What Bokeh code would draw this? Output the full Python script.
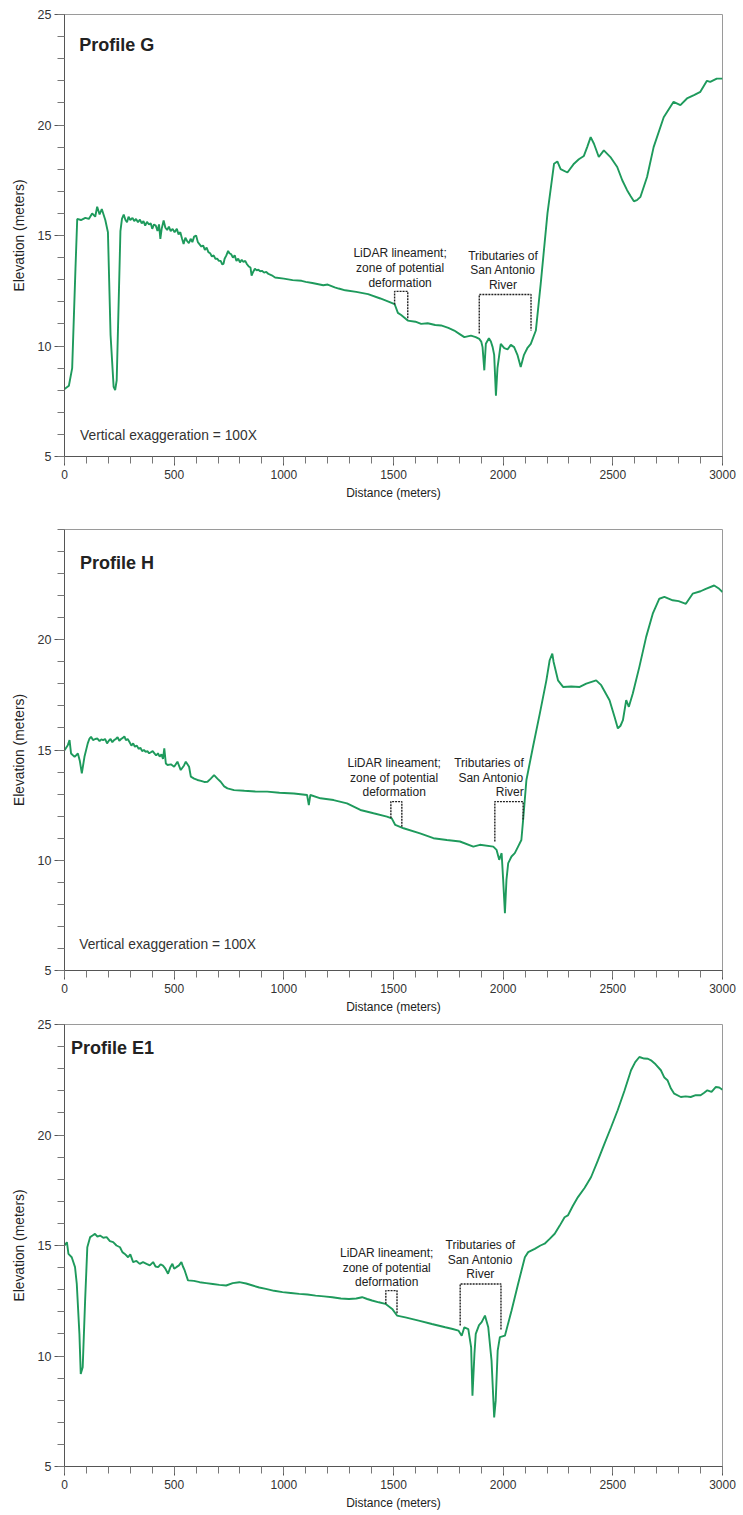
from bokeh.plotting import figure
from bokeh.layouts import column
from bokeh.models import Range1d, FixedTicker, ColumnDataSource
from bokeh.core.properties import value
from bokeh.embed import file_html
from bokeh.resources import INLINE

FONT = "Liberation Sans"
LINE_COLOR = "#1e9a5c"

# ---------------- data ----------------
x_major = [0, 500, 1000, 1500, 2000, 2500, 3000]
x_minor = list(range(0, 3001, 100))
y_major_full = [5, 10, 15, 20, 25]
y_major_h = [5, 10, 15, 20]
y_minor = list(range(5, 26))

g_dist = [0, 20, 35, 50, 58, 75, 95, 111, 126, 140, 149, 160, 170, 186, 198, 202, 210, 224, 231, 238, 247,
          255, 262, 270, 278, 285, 292, 300, 310, 318, 326, 335, 344, 352, 360, 368, 376, 385, 393, 400,
          408, 416, 424, 431, 437, 443, 452, 460, 468, 476, 484, 493, 502, 512, 520, 528, 536, 543, 551,
          559, 567, 575, 583, 591, 600, 608, 616, 624, 632, 640, 648, 656, 664, 672, 680, 688, 696, 704,
          712, 719, 725, 730, 738, 746, 752, 760, 768, 776, 784, 792, 800, 808, 816, 824, 832, 840, 848,
          853, 860, 868, 876, 884, 892, 900, 910, 920, 930, 945, 960,
          1000, 1040, 1081, 1100, 1130, 1180, 1200, 1232, 1250, 1280, 1330, 1384, 1440, 1480, 1505, 1520,
          1535, 1565, 1600, 1626, 1656, 1690, 1717, 1750, 1777, 1800, 1823, 1853, 1875, 1891, 1900, 1906,
          1914, 1921, 1935, 1944, 1952, 1959, 1967, 1974, 1989, 2005, 2020, 2035, 2050, 2065, 2080, 2095,
          2110, 2126, 2149, 2171, 2202, 2232, 2247, 2262, 2293, 2323, 2345, 2368, 2383, 2399, 2414, 2436,
          2459, 2489, 2520, 2543, 2565, 2580, 2596, 2610, 2626, 2656, 2686, 2732, 2777, 2808, 2838, 2870,
          2899, 2929, 2944, 2974, 3000]
g_elev = [8.05, 8.2, 9.0, 13.5, 15.75, 15.7, 15.8, 15.75, 16.0, 15.85, 16.3, 15.95, 16.2, 15.7, 15.15,
          13.6, 10.5, 8.15, 8.0, 8.45, 12.0,
          15.2, 15.75, 15.95, 15.7, 15.6, 15.85, 15.7, 15.8, 15.65, 15.75, 15.6, 15.72, 15.55, 15.65, 15.45,
          15.62, 15.5, 15.55, 15.3, 15.5, 15.45, 15.2, 15.5, 14.85, 15.3, 15.68, 15.35, 15.25, 15.4, 15.2,
          15.3, 15.15, 15.3, 15.05, 15.15, 14.85, 14.62, 14.9, 14.75, 14.65, 14.85, 14.7, 14.95, 15.0,
          14.7, 14.6, 14.5, 14.55, 14.35, 14.45, 14.25, 14.2, 14.05, 14.1, 13.95, 13.95, 13.85, 13.85,
          13.7, 13.72, 13.95, 14.1, 14.3, 14.2, 14.15, 14.0, 14.1, 13.85, 13.95, 13.78, 13.9, 13.8, 13.85,
          13.7, 13.6, 13.55, 13.19, 13.35, 13.5, 13.42, 13.45, 13.38, 13.4, 13.32, 13.35, 13.26, 13.2,
          13.1,
          13.05, 12.98, 12.95, 12.9, 12.85, 12.75, 12.78, 12.65, 12.6, 12.52, 12.45, 12.35, 12.15, 12.0,
          11.9, 11.5, 11.4, 11.15, 11.1, 11.0, 11.03, 10.95, 10.93, 10.82, 10.7, 10.55, 10.4, 10.47, 10.4,
          10.32, 10.2, 9.95, 8.9, 10.1, 10.35, 10.2, 9.95, 9.6, 7.75, 9.0, 10.1, 9.9, 9.85, 10.05, 9.95,
          9.6, 9.05, 9.6, 9.9, 10.1, 10.7, 12.8, 16.0, 18.25, 18.35, 18.0, 17.85, 18.25, 18.45, 18.6,
          19.0, 19.45, 19.15, 18.55, 18.85, 18.55, 18.1, 17.5, 17.05, 16.8, 16.55, 16.6, 16.75, 17.65,
          19.0, 20.35, 21.05, 20.9, 21.2, 21.35, 21.5, 22.0, 21.95, 22.1, 22.1]

h_dist = [0, 15, 23, 30, 46, 61, 70, 79, 91,
          106, 114, 121, 130, 140, 150, 160, 168, 176, 185, 194, 202, 210, 218, 226, 234, 242, 250, 258,
          266, 273, 280, 288, 297, 305, 313, 321, 330, 338, 346, 354, 362, 370, 378, 386, 394, 402, 410,
          418, 426, 434, 442, 449, 455, 462,
          470, 485, 500, 515, 530, 545, 553, 568, 576, 591, 606, 622, 637, 652, 667, 682, 697, 712, 728,
          743, 773, 820, 870, 924, 980, 1046, 1106, 1114, 1121, 1167, 1227, 1288, 1349, 1409, 1470, 1492,
          1508, 1546, 1621, 1682, 1743, 1803, 1864, 1894, 1955, 1970, 1982, 1993, 2000, 2008, 2015, 2023,
          2038, 2053, 2068, 2083, 2091, 2106, 2136, 2167, 2197, 2212, 2224, 2230, 2250, 2273, 2310, 2349,
          2379, 2424, 2447, 2485, 2508, 2523, 2535, 2546, 2561, 2573, 2591, 2621, 2652, 2682, 2712, 2735,
          2773, 2800, 2833, 2864, 2900, 2924, 2962, 2985, 3000]
h_elev = [14.99, 15.22, 15.45, 14.84, 14.69, 14.84, 14.5, 13.94, 14.69,
          15.3, 15.52, 15.6, 15.45, 15.5, 15.52, 15.4, 15.48, 15.45, 15.5, 15.3, 15.42, 15.5, 15.35, 15.45,
          15.5, 15.58, 15.42, 15.5, 15.55, 15.62, 15.45, 15.5, 15.35, 15.2, 15.3, 15.15, 15.2, 15.05, 15.1,
          14.95, 15.0, 14.92, 14.95, 14.85, 14.9, 14.95, 14.85, 14.75, 14.85, 14.7, 14.8, 14.6, 15.07,
          14.39,
          14.32, 14.35, 14.24, 14.47, 14.09, 14.3, 14.47, 14.24, 13.79, 13.7, 13.64, 13.6, 13.55, 13.56,
          13.7, 13.86, 13.7, 13.56, 13.35, 13.26, 13.18, 13.15, 13.12, 13.11, 13.06, 13.03, 12.96, 12.5,
          12.96, 12.81, 12.73, 12.58, 12.28, 12.13, 11.98, 11.9, 11.6, 11.45, 11.22, 11.0, 10.92, 10.85,
          10.62, 10.7, 10.62, 10.47, 10.02, 10.32, 9.11, 7.6, 9.11, 9.87, 10.17, 10.32, 10.62, 10.92,
          11.83, 13.64, 15.15, 16.65, 18.16, 19.07, 19.37, 18.99, 18.16, 17.86, 17.88, 17.86, 18.01, 18.16,
          17.94, 17.26, 16.5, 15.98, 16.1, 16.35, 17.26, 16.96, 17.56, 18.77, 20.13, 21.18, 21.86, 21.94,
          21.79, 21.75, 21.63, 22.09, 22.2, 22.31, 22.46, 22.31, 22.16]

e1_dist = [0, 11, 18, 33, 48, 56, 68, 74, 83, 94, 104, 117, 128, 139, 150, 162, 177, 192, 207, 222, 237,
           253, 264, 275, 290, 300, 313, 328, 343, 358, 374, 389, 404, 415, 427, 438, 449, 460, 472, 482,
           492, 500, 510, 522, 533, 540, 548, 563, 590, 616, 646, 676, 706, 737, 767, 797, 828, 858, 888,
           918, 956, 994, 1032, 1070, 1108, 1145, 1183, 1221, 1260, 1297, 1330, 1357, 1380, 1402, 1433,
           1463, 1494, 1516, 1554, 1615, 1675, 1736, 1770, 1796, 1811, 1823, 1841, 1854, 1860, 1869, 1875,
           1890, 1902, 1917, 1932, 1947, 1959, 1966, 1975, 1985, 2008, 2038, 2068, 2099, 2114, 2144, 2170,
           2189, 2212, 2235, 2258, 2280, 2295, 2318, 2341, 2371, 2401, 2432, 2462, 2492, 2522, 2553, 2583,
           2602, 2621, 2643, 2660, 2674, 2695, 2719, 2735, 2749, 2765, 2780, 2810, 2832, 2855, 2878, 2900,
           2915, 2931, 2950, 2969, 2985, 3000]
e1_elev = [15.0, 15.15, 14.62, 14.47, 14.02, 13.26, 11.0, 9.19, 9.49, 12.51, 14.92, 15.38, 15.45, 15.53,
           15.4, 15.45, 15.35, 15.38, 15.2, 15.15, 15.0, 14.92, 14.7, 14.62, 14.47, 14.6, 14.25, 14.3,
           14.17, 14.25, 14.17, 14.1, 14.25, 14.05, 14.02, 14.15, 14.09, 13.95, 13.72, 14.0, 14.17, 13.95,
           14.02, 14.1, 14.25, 14.05, 13.87, 13.42, 13.4, 13.34, 13.3, 13.26, 13.22, 13.19, 13.3, 13.34,
           13.28, 13.19, 13.1, 13.04, 12.95, 12.89, 12.85, 12.81, 12.78, 12.73, 12.7, 12.66, 12.6, 12.58,
           12.6, 12.66, 12.58, 12.51, 12.43, 12.36, 12.13, 11.83, 11.75, 11.6, 11.45, 11.3, 11.22, 11.15,
           10.92, 11.3, 11.22, 10.39, 8.2, 10.09, 11.0, 11.4, 11.53, 11.83, 11.3, 9.79, 7.22, 7.98, 10.24,
           10.85, 10.92, 12.05, 13.26, 14.47, 14.7, 14.85, 15.0, 15.08, 15.3, 15.53, 15.9, 16.28, 16.36,
           16.8, 17.19, 17.6, 18.1, 18.85, 19.61, 20.35, 21.12, 22.0, 22.93, 23.3, 23.53, 23.46, 23.45,
           23.38, 23.2, 22.93, 22.6, 22.48, 22.1, 21.87, 21.72, 21.75, 21.72, 21.8, 21.8, 21.9, 22.02,
           21.95, 22.17, 22.15, 22.05]

assert len(g_dist) == len(g_elev), (len(g_dist), len(g_elev))
assert len(h_dist) == len(h_elev), (len(h_dist), len(h_elev))
assert len(e1_dist) == len(e1_elev), (len(e1_dist), len(e1_elev))

# bracket annotations: [x_left, x_right, y_top, y_left_bottom, y_right_bottom]
g_lidar_box = [1505, 1565, 12.47, 11.88, 11.2]
g_trib_box = [1891, 2127, 12.33, 10.57, 10.70]
h_lidar_box = [1488, 1538, 12.66, 11.9, 11.5]
h_trib_box = [1962, 2091, 12.66, 10.85, 11.83]
e1_lidar_box = [1465, 1516, 12.96, 12.36, 11.9]
e1_trib_box = [1804, 1990, 13.26, 11.38, 11.15]

lidar_lines = ["LiDAR lineament;", "zone of potential", "deformation"]
trib_lines = ["Tributaries of", "San Antonio", "River"]

# text anchors: (x, [y of each line])
g_lidar_txt = (1530, [14.23, 13.55, 12.87])
g_trib_txt = (1999, [14.09, 13.42, 12.74])
h_lidar_txt = (1503, [14.41, 13.73, 13.09])
h_trib_txt = (2094, [14.41, 13.73, 13.09])
e1_lidar_txt = (1469, [14.68, 14.0, 13.33])
e1_trib_txt = (1896, [15.04, 14.36, 13.73])

titles = ["Profile G", "Profile H", "Profile E1"]
title_pos = [(67, 23.6), (71, 23.46), (30, 23.93)]
vex_text = "Vertical exaggeration = 100X"
vex_pos = [(71, 5.95), (67, 6.17), None]


def make_panel(dist, elev, width, height, bl, bt, bb, br, ymajor,
               title, tpos, vpos, lbox, tbox, ltxt, ttxt, trib_align):
    p = figure(width=width, height=height, output_backend="svg", toolbar_location=None,
               x_range=Range1d(0, 3000), y_range=Range1d(5, 25),
               min_border_left=bl, min_border_top=bt, min_border_bottom=bb, min_border_right=br,
               background_fill_color="white", border_fill_color="white")
    p.grid.visible = False
    p.outline_line_color = "#9a9a9a"
    p.outline_line_width = 1

    p.xaxis.ticker = FixedTicker(ticks=x_major, minor_ticks=x_minor)
    p.yaxis.ticker = FixedTicker(ticks=ymajor, minor_ticks=y_minor)
    for ax in (p.xaxis[0], p.yaxis[0]):
        ax.axis_line_color = "#555555"
        ax.major_tick_line_color = "#555555"
        ax.minor_tick_line_color = "#777777"
        ax.major_tick_in = 0
        ax.minor_tick_in = 0
        ax.major_label_text_font = FONT
        ax.major_label_text_color = "#333333"
        ax.axis_label_text_font = FONT
        ax.axis_label_text_font_style = "normal"
        ax.axis_label_text_color = "#222222"
    p.xaxis.major_tick_out = 9
    p.xaxis.minor_tick_out = 7
    p.yaxis.major_tick_out = 10
    p.yaxis.minor_tick_out = 7
    p.xaxis.major_label_text_font_size = "12px"
    p.yaxis.major_label_text_font_size = "12.5px"
    p.xaxis.major_label_standoff = 4
    p.yaxis.major_label_standoff = 3
    p.xaxis.axis_label = "Distance (meters)"
    p.yaxis.axis_label = "Elevation (meters)"
    p.xaxis.axis_label_text_font_size = "12px"
    p.yaxis.axis_label_text_font_size = "13.8px"
    p.xaxis.axis_label_standoff = 4
    p.yaxis.axis_label_standoff = 8

    src = ColumnDataSource(dict(x=dist, y=elev))
    p.line("x", "y", source=src, line_color=LINE_COLOR, line_width=1.9)

    # brackets
    for box in (lbox, tbox):
        x0, x1, yt, yl, yr = box
        p.line([x0, x0, x1, x1], [yl, yt, yt, yr], line_color="#222222",
               line_width=1.4, line_dash="2 1")

    # annotation texts
    lx, lys = ltxt
    p.text(x=[lx] * 3, y=lys, text=lidar_lines, text_font=value(FONT), text_font_size="12px",
           text_align="center", text_baseline="middle", text_color="#222222")
    tx, tys = ttxt
    p.text(x=[tx] * 3, y=tys, text=trib_lines, text_font=value(FONT), text_font_size="12px",
           text_align=trib_align, text_baseline="middle", text_color="#222222")

    p.text(x=[tpos[0]], y=[tpos[1]], text=[title], text_font=value(FONT), text_font_size="18px",
           text_font_style="bold", text_align="left", text_baseline="middle", text_color="#222222")
    if vpos is not None:
        p.text(x=[vpos[0]], y=[vpos[1]], text=[vex_text], text_font=value(FONT),
               text_font_size="13.8px", text_align="left", text_baseline="middle", text_color="#333333")
    return p


# page renders without margin: figures start at x=0, y=0
p1 = make_panel(g_dist, g_elev, 741, 508, 62, 14, 52, 19, y_major_full,
                titles[0], title_pos[0], vex_pos[0], g_lidar_box, g_trib_box,
                g_lidar_txt, g_trib_txt, "center")
p2 = make_panel(h_dist, h_elev, 741, 508, 63, 21, 45, 18, y_major_h,
                titles[1], title_pos[1], vex_pos[1], h_lidar_box, h_trib_box,
                h_lidar_txt, h_trib_txt, "right")
p3 = make_panel(e1_dist, e1_elev, 741, 498, 64, 8, 48, 16, y_major_full,
                titles[2], title_pos[2], vex_pos[2], e1_lidar_box, e1_trib_box,
                e1_lidar_txt, e1_trib_txt, "center")

layout = column(p1, p2, p3, spacing=0)
open("out.html", "w").write(file_html(layout, INLINE))
